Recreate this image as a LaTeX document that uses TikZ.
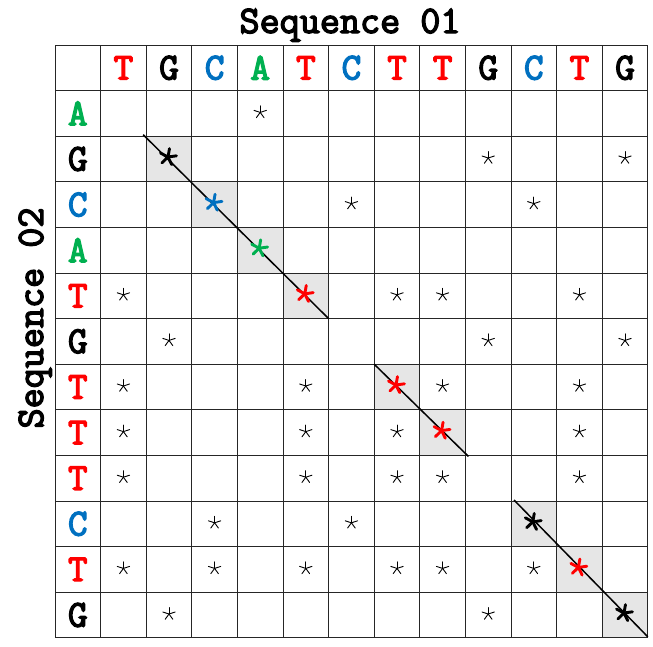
\documentclass[tikz,border=0pt]{standalone}
\usepackage{fontspec}
\newfontfamily\slab[FakeBold=3.6]{Latin Modern Mono}
\definecolor{tred}{HTML}{FF0000}
\definecolor{cblue}{HTML}{0070C0}
\definecolor{agreen}{HTML}{00B050}
\definecolor{shadegray}{HTML}{E6E6E6}
\tikzset{
  base/.style={font=\slab\fontsize{38}{38}\selectfont, inner sep=0pt},
  nT/.style={base, text=tred},
  nC/.style={base, text=cblue},
  nA/.style={base, text=agreen},
  nG/.style={base, text=black},
  titlestyle/.style={font=\slab\fontsize{39}{39}\selectfont, inner sep=0pt, anchor=base},
  gridline/.style={draw=black!85, line width=1pt},
  diagline/.style={draw=black, line width=1.5pt},
  pics/smallstar/.style={code={\foreach \a in {-90,-18,54,126,198} \draw[line width=0.9pt, line cap=round] (0,0) -- (\a:6.5);}},
  pics/bigstar/.style={code={\foreach \a in {-80,-8,64,136,208} \draw[#1, line width=2.9pt, line cap=round] (0,0) -- (\a:8.5);}}
}
\begin{document}
\begin{tikzpicture}[x=1pt,y=-1pt]
\useasboundingbox (0,0) rectangle (653,646);
\def\cs{45.6}
% shaded diagonal cells
\foreach \i in {2,3,4,5,7,8,10,11,12}
  \fill[shadegray] ({55+\cs*\i},{45+\cs*\i}) rectangle ++(\cs,\cs);
% grid
\foreach \k in {0,...,13} {
  \draw[gridline] ({55+\cs*\k},45) -- ({55+\cs*\k},{45+13*\cs});
  \draw[gridline] (55,{45+\cs*\k}) -- ({55+13*\cs},{45+\cs*\k});
}
% titles
\node[titlestyle] (t1) at (350,33) {Sequence 01};
\node[titlestyle, rotate=90] (t2) at (43,318) {Sequence 02};
% column header letters
\foreach \l [count=\i] in {T,G,C,A,T,C,T,T,G,C,T,G}
  \node[n\l] (h\i) at ({55+\cs*(\i+0.5)},{45+\cs*0.5}) {\l};
% row letters
\foreach \l [count=\j] in {A,G,C,A,T,G,T,T,T,C,T,G}
  \node[n\l] (r\j) at ({55+\cs*0.5},{45+\cs*(\j+0.5)}) {\l};
% small stars (row/col)
\foreach \r/\c in {1/4, 2/9,2/12, 3/6,3/10, 5/1,5/7,5/8,5/11, 6/2,6/9,6/12,
   7/1,7/5,7/8,7/11, 8/1,8/5,8/7,8/11, 9/1,9/5,9/7,9/8,9/11, 10/3,10/6,
   11/1,11/3,11/5,11/7,11/8,11/10, 12/2,12/9}
  \pic at ({55+\cs*(\c+0.5)},{45+\cs*(\r+0.5)-1}) {smallstar};
% diagonal lines
\coordinate (d1s) at ({55+\cs*2-3},{45+\cs*2-1.5});
\coordinate (d1e) at ({55+\cs*6},{45+\cs*6});
\coordinate (d2s) at ({55+\cs*7},{45+\cs*7});
\coordinate (d2e) at ({55+\cs*9+3},{45+\cs*9+1});
\coordinate (d3s) at ({55+\cs*10+3},{45+\cs*10-1});
\coordinate (d3e) at ({55+\cs*13},{45+\cs*13-1});
\draw[diagline] (d1s) -- (d1e);
\draw[diagline] (d2s) -- (d2e);
\draw[diagline] (d3s) -- (d3e);
% big stars on diagonal
\foreach \i/\col in {2/black,3/cblue,4/agreen,5/tred,7/tred,8/tred,10/black,11/tred,12/black}
  \pic at ({55+\cs*(\i+0.5)-1},{45+\cs*(\i+0.5)-2}) {bigstar=\col};
\end{tikzpicture}
\end{document}
